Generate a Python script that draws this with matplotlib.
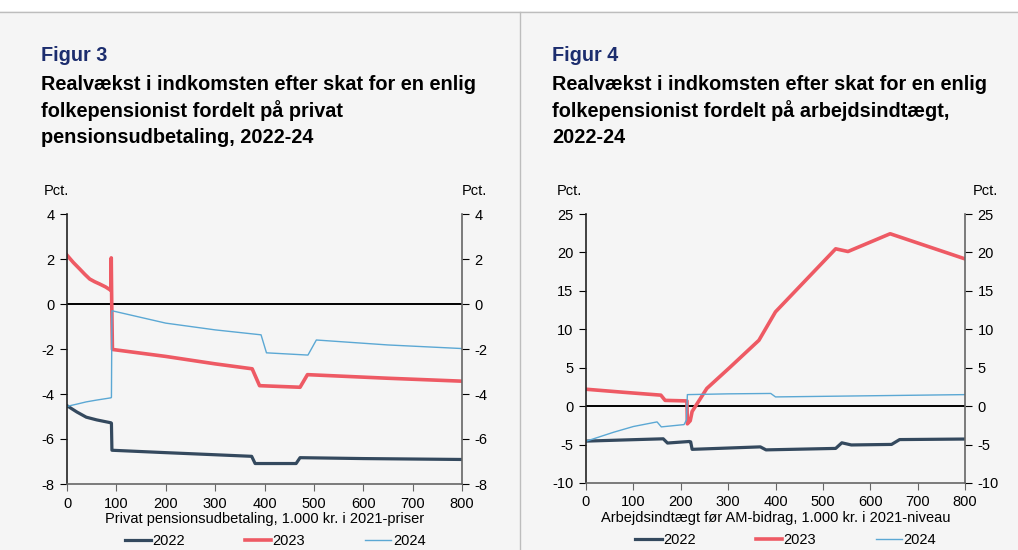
import numpy as np
import matplotlib.pyplot as plt
from matplotlib.patches import Rectangle
from matplotlib.lines import Line2D

plt.rcParams['font.family'] = ['Liberation Sans', 'DejaVu Sans']
plt.rcParams['axes.unicode_minus'] = False

# Figur 3: privat pensionsudbetaling (1.000 kr.)
p22_x = [0, 20, 39, 60, 89, 90, 91, 193, 300, 374, 381, 464, 472, 600, 800]
p22_y = [-4.52, -4.8, -5.03, -5.15, -5.28, -5.3, -6.5, -6.6, -6.7, -6.77, -7.09, -7.09, -6.83, -6.87, -6.91]
p23_x = [0, 13, 26, 36, 46, 56, 66, 78, 88, 89, 89.6, 90.5, 92, 200, 300, 375, 390, 472, 487, 650, 800]
p23_y = [2.17, 1.84, 1.55, 1.32, 1.11, 0.99, 0.89, 0.76, 0.62, 0.6, 2.05, 0.2, -2.02, -2.33, -2.66, -2.88, -3.63, -3.7, -3.14, -3.3, -3.43]
p24_x = [0, 20, 39, 60, 89, 90, 91, 200, 300, 393, 404, 488, 505, 650, 800]
p24_y = [-4.55, -4.45, -4.35, -4.27, -4.17, -4.15, -0.3, -0.85, -1.15, -1.37, -2.17, -2.27, -1.6, -1.82, -1.98]

# Figur 4: arbejdsindtaegt foer AM-bidrag (1.000 kr.)
a22_x = [0, 80, 163, 172, 218, 221, 224, 368, 380, 527, 540, 560, 645, 662, 800]
a22_y = [-4.55, -4.4, -4.25, -4.8, -4.6, -4.65, -5.62, -5.3, -5.69, -5.5, -4.77, -5.05, -4.98, -4.35, -4.28]
a23_x = [0, 80, 158, 167, 213, 214, 220, 224, 255, 303, 365, 400, 527, 553, 642, 800]
a23_y = [2.2, 1.8, 1.43, 0.75, 0.68, -2.3, -1.9, -0.7, 2.3, 5.0, 8.57, 12.27, 20.47, 20.12, 22.43, 19.16]
a24_x = [0, 58, 100, 150, 159, 207, 212, 214, 300, 390, 400, 600, 800]
a24_y = [-4.57, -3.4, -2.65, -2.05, -2.7, -2.4, -1.8, 1.5, 1.6, 1.65, 1.2, 1.35, 1.5]

years = ['2022', '2023', '2024']
colors = ['#34495e', '#ee5a64', '#5ba8d4']
widths = [2.3, 2.6, 1.0]

fig = plt.figure(figsize=(10.18, 5.5), dpi=100, facecolor='#f5f5f5')
fig.add_artist(Rectangle((0, 1 - 11 / 550), 1, 11 / 550, transform=fig.transFigure,
                         facecolor='white', edgecolor='none'))
fig.add_artist(Line2D([0, 1], [1 - 11.5 / 550] * 2, transform=fig.transFigure, color='#bdbdbd', lw=1))
fig.add_artist(Line2D([520 / 1018] * 2, [0, 1 - 11.5 / 550], transform=fig.transFigure, color='#bdbdbd', lw=1))


def panel(rect, series, ylim, yticks, xlabel, num, title, tx, pct_x):
	ax = fig.add_axes(rect, facecolor='none')
	for (x, y), c, w, lab in zip(series, colors, widths, years):
		ax.plot(x, y, color=c, lw=w, label=lab, solid_joinstyle='round')
	ax.axhline(0, color='black', lw=1.4, zorder=1)
	ax.set_xlim(0, 800)
	ax.set_ylim(*ylim)
	ax.set_xticks(range(0, 801, 100))
	ax.set_yticks(yticks)
	ax.spines['top'].set_visible(False)
	ax.spines['left'].set_color('#222222')
	ax.spines['right'].set_color('#666666')
	ax.spines['bottom'].set_color('#666666')
	for s in ['left', 'right', 'bottom']:
		ax.spines[s].set_linewidth(1.2)
	ax.tick_params(axis='y', direction='out', length=5, left=True, right=True,
				   labelleft=True, labelright=True, labelsize=10.5, pad=4)
	ax.tick_params(axis='x', direction='out', length=5, labelsize=10.5, pad=4, color='#666666')
	ax.set_xlabel(xlabel, fontsize=10.5, labelpad=1)
	ax.text(pct_x[0], 1.085, 'Pct.', transform=ax.transAxes, fontsize=10.5, ha='left', va='center')
	ax.text(pct_x[1], 1.085, 'Pct.', transform=ax.transAxes, fontsize=10.5, ha='left', va='center')
	ax.legend(loc='center', bbox_to_anchor=(0.527, -0.212), ncol=3, frameon=False, fontsize=10.5,
			  handlelength=1.8, handletextpad=0.1, columnspacing=4.1)
	fig.text(tx, 1 - 61 / 550, num, fontsize=14.3, fontweight='bold', color='#1c2d6e', va='baseline')
	for i, line in enumerate(title):
		fig.text(tx, 1 - (90 + 26.7 * i) / 550, line, fontsize=14.3, fontweight='bold', color='black', va='baseline')
	return ax


panel([67 / 1018, 1 - 484 / 550, 395 / 1018, 270 / 550],
	  [(p22_x, p22_y), (p23_x, p23_y), (p24_x, p24_y)],
	  (-8, 4), range(-8, 5, 2),
	  'Privat pensionsudbetaling, 1.000 kr. i 2021-priser', 'Figur 3',
	  ['Realvækst i indkomsten efter skat for en enlig',
	   'folkepensionist fordelt på privat',
	   'pensionsudbetaling, 2022-24'], 41 / 1018, (-0.06, 1.0))

panel([586 / 1018, 1 - 483 / 550, 379 / 1018, 269 / 550],
	  [(a22_x, a22_y), (a23_x, a23_y), (a24_x, a24_y)],
	  (-10, 25), range(-10, 26, 5),
	  'Arbejdsindtægt før AM-bidrag, 1.000 kr. i 2021-niveau', 'Figur 4',
	  ['Realvækst i indkomsten efter skat for en enlig',
	   'folkepensionist fordelt på arbejdsindtægt,',
	   '2022-24'], 552 / 1018, (-0.078, 1.02))

fig.savefig('out.png', dpi=100, facecolor=fig.get_facecolor())
